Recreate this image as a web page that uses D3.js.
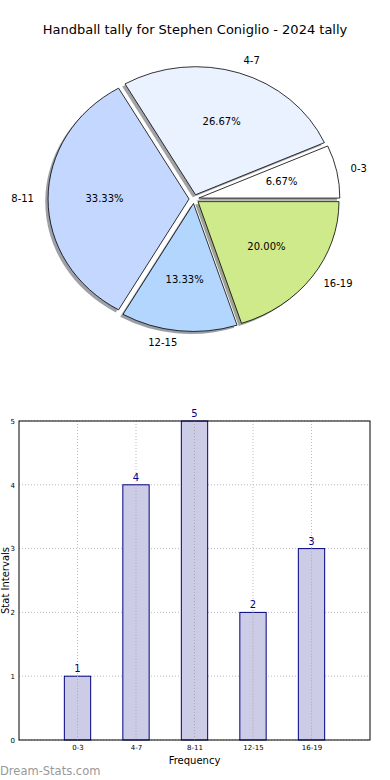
<!DOCTYPE html>
<html>
<head>
<meta charset="utf-8">
<script src="https://cdn.jsdelivr.net/npm/d3@7"></script>
<style>
  html, body { margin: 0; padding: 0; background: #fff; }
  text { font-family: "DejaVu Sans", sans-serif; }
</style>
</head>
<body>
<svg id="chart" width="390" height="780"></svg>
<script>
const title = "Handball tally for Stephen Coniglio - 2024 tally";
const categories = ["0-3", "4-7", "8-11", "12-15", "16-19"];
const counts = [1, 4, 5, 2, 3];
const sliceColors = ["#ffffff", "#eaf1ff", "#c4d8ff", "#b3d6ff", "#cfea8b"];
const yTicks = [0, 1, 2, 3, 4, 5];
const xLabel = "Frequency";
const yLabel = "Stat Intervals";
const watermark = "Dream-Stats.com";

const svg = d3.select("#chart");
const total = d3.sum(counts);

// ---------- Title ----------
svg.append("text")
  .attr("x", 195).attr("y", 30)
  .attr("text-anchor", "middle").attr("dominant-baseline", "middle")
  .attr("font-size", 13).attr("fill", "#000")
  .text(title);

// ---------- Pie (elliptical, matplotlib-like) ----------
const cx = 194, cy = 199, rx = 141, ry = 128;
const explode = 0.035;
const pie = d3.pie().sort(null).value(d => d)
  .startAngle(Math.PI / 2).endAngle(Math.PI / 2 - 2 * Math.PI);
const arcs = pie(counts);
const arcGen = d3.arc().innerRadius(0).outerRadius(1);

const pg = svg.append("g").attr("transform", `translate(${cx},${cy})`);
function unit(a, r) { return [Math.sin(a) * r * rx, -Math.cos(a) * r * ry]; }

// shadows
arcs.forEach((d, i) => {
  const mid = (d.startAngle + d.endAngle) / 2;
  const [ox, oy] = unit(mid, explode);
  const c = d3.rgb(sliceColors[i]);
  pg.append("path")
    .attr("d", arcGen(d))
    .attr("transform", `translate(${ox - 0.02 * rx},${oy + 0.02 * ry}) scale(${rx},${ry})`)
    .attr("fill", d3.rgb(c.r * 0.3, c.g * 0.3, c.b * 0.3))
    .attr("fill-opacity", 0.5);
});
// slices
arcs.forEach((d, i) => {
  const mid = (d.startAngle + d.endAngle) / 2;
  const [ox, oy] = unit(mid, explode);
  pg.append("path")
    .attr("d", arcGen(d))
    .attr("transform", `translate(${ox},${oy}) scale(${rx},${ry})`)
    .attr("fill", sliceColors[i])
    .attr("stroke", "#000").attr("stroke-width", 0.8)
    .attr("vector-effect", "non-scaling-stroke")
    .attr("stroke-linejoin", "miter");
});
// labels
arcs.forEach((d, i) => {
  const mid = (d.startAngle + d.endAngle) / 2;
  const [lx, ly] = unit(mid, explode + 1.1);
  pg.append("text")
    .attr("x", lx).attr("y", ly)
    .attr("text-anchor", lx > 0 ? "start" : "end")
    .attr("dominant-baseline", "middle")
    .attr("font-size", 10).attr("fill", "#000")
    .text(categories[i]);
  const [px, py] = unit(mid, explode + 0.6);
  pg.append("text")
    .attr("x", px).attr("y", py)
    .attr("text-anchor", "middle").attr("dominant-baseline", "middle")
    .attr("font-size", 10).attr("fill", "#000")
    .text((counts[i] / total * 100).toFixed(2) + "%");
});

// ---------- Bar chart ----------
const L = 19, R = 370, T = 421, B = 740;
const x = d3.scaleLinear().domain([-1, 5]).range([L, R]);
const y = d3.scaleLinear().domain([0, 5]).range([B, T]);
const bw = 0.45;
const bg = svg.append("g");

// grid
bg.selectAll(".hg").data(yTicks).enter().append("line")
  .attr("x1", L).attr("x2", R).attr("y1", d => y(d)).attr("y2", d => y(d))
  .attr("stroke", "#bbbbbb").attr("stroke-width", 1).attr("stroke-dasharray", "1,2");
bg.selectAll(".vg").data(categories).enter().append("line")
  .attr("x1", (d, i) => x(i)).attr("x2", (d, i) => x(i)).attr("y1", T).attr("y2", B)
  .attr("stroke", "#bbbbbb").attr("stroke-width", 1).attr("stroke-dasharray", "1,2");

// bars
bg.selectAll(".bar").data(counts).enter().append("rect")
  .attr("x", (d, i) => x(i - bw / 2))
  .attr("width", (d, i) => x(i + bw / 2) - x(i - bw / 2))
  .attr("y", d => y(d)).attr("height", d => B - y(d))
  .attr("fill", "#ccccE6").attr("stroke", "#000080").attr("stroke-width", 1);

// grid on top of bars (vertical dotted visible inside bars)
bg.selectAll(".vg2").data(categories).enter().append("line")
  .attr("x1", (d, i) => x(i)).attr("x2", (d, i) => x(i))
  .attr("y1", (d, i) => y(counts[i])).attr("y2", B)
  .attr("stroke", "#aaaaaa").attr("stroke-width", 1).attr("stroke-dasharray", "1,2");

// value labels
bg.selectAll(".val").data(counts).enter().append("text")
  .attr("x", (d, i) => x(i)).attr("y", d => y(d) - 4)
  .attr("text-anchor", "middle")
  .attr("font-size", 10).attr("fill", "#00008b")
  .text(d => d);

// frame
bg.append("rect").attr("x", L).attr("y", T).attr("width", R - L).attr("height", B - T)
  .attr("fill", "none").attr("stroke", "#000").attr("stroke-width", 1);

// axes
const yAxis = d3.axisLeft(y).tickValues(yTicks).tickSize(0).tickPadding(4).tickFormat(d3.format("d"));
const ya = svg.append("g").attr("transform", `translate(${L},0)`).call(yAxis);
ya.select(".domain").remove();
ya.selectAll("text").attr("font-size", 7).attr("font-family", "DejaVu Sans");

const xAxis = d3.axisBottom(x).tickValues(d3.range(categories.length)).tickSize(0).tickPadding(5)
  .tickFormat(i => categories[i]);
const xa = svg.append("g").attr("transform", `translate(0,${B})`).call(xAxis);
xa.select(".domain").remove();
xa.selectAll("text").attr("font-size", 7).attr("font-family", "DejaVu Sans");

svg.append("text")
  .attr("x", (L + R) / 2).attr("y", 764)
  .attr("text-anchor", "middle").attr("font-size", 10).attr("fill", "#000")
  .text(xLabel);
svg.append("text")
  .attr("transform", `translate(9,${(T + B) / 2}) rotate(-90)`)
  .attr("text-anchor", "middle").attr("font-size", 10).attr("fill", "#000")
  .text(yLabel);

svg.append("text")
  .attr("x", 0).attr("y", 775)
  .attr("font-size", 11.5).attr("fill", "#999")
  .text(watermark);
</script>
</body>
</html>
